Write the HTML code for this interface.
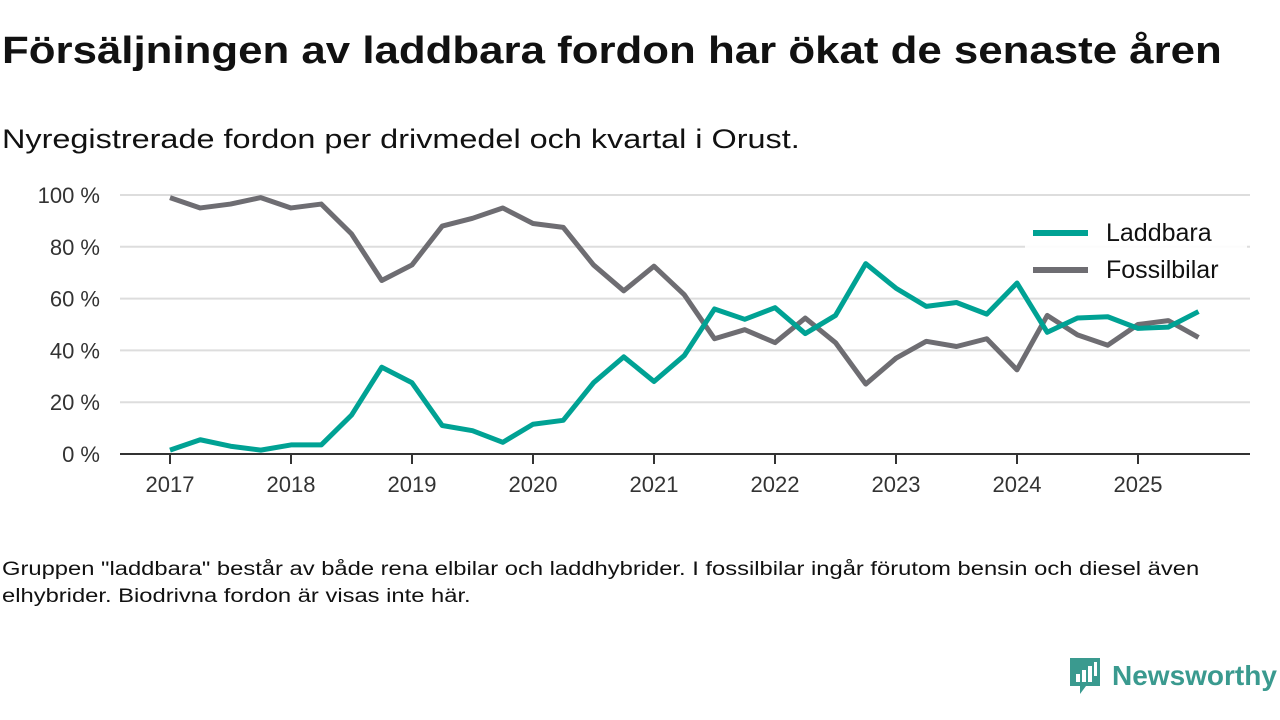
<!DOCTYPE html>
<html><head><meta charset="utf-8">
<style>
body{margin:0;width:1280px;height:720px;background:#fff;font-family:"Liberation Sans","DejaVu Sans",sans-serif;color:#111;overflow:hidden;position:relative}
#title{position:absolute;left:2px;top:30px;font-size:38px;font-weight:bold;margin:0;transform:scaleX(1.153);transform-origin:left top;white-space:nowrap}
#sub{position:absolute;left:2px;top:124px;font-size:27px;transform:scaleX(1.2);transform-origin:left top;white-space:nowrap}
#note{position:absolute;left:2px;top:556px;font-size:19px;line-height:27px;width:992px;transform:scaleX(1.25);transform-origin:left top}
#logo{position:absolute;left:1068px;top:656px;display:flex;align-items:center}
#logo span{font-size:28px;font-weight:bold;color:#3a9a8f;margin-left:10px}
</style></head><body>
<h1 id="title">Försäljningen av laddbara fordon har ökat de senaste åren</h1>
<div id="sub">Nyregistrerade fordon per drivmedel och kvartal i Orust.</div>
<svg id="chart" width="1280" height="720" style="position:absolute;left:0;top:0"></svg>
<div id="note">Gruppen "laddbara" består av både rena elbilar och laddhybrider. I fossilbilar ingår förutom bensin och diesel även elhybrider. Biodrivna fordon är visas inte här.</div>
<div id="logo">
<svg width="34" height="40" viewBox="0 0 34 40"><path d="M2 2h30v28H18l-6 8v-8H2z" fill="#3a9a8f"/><rect x="8" y="18" width="4" height="8" fill="#fff"/><rect x="14" y="14" width="4" height="12" fill="#fff"/><rect x="20" y="10" width="4" height="16" fill="#fff"/><rect x="26" y="6" width="3" height="14" fill="#fff"/></svg>
<span>Newsworthy</span></div>
<script>
const years=["2017","2018","2019","2020","2021","2022","2023","2024","2025"];
const yTicks=[0,20,40,60,80,100];
const laddbara=[1.5,5.5,3,1.5,3.5,3.5,15,33.5,27.5,11,9,4.5,11.5,13,27.5,37.5,28,38,56,52,56.5,46.5,53.5,73.5,64,57,58.5,54,66,47,52.5,53,48.5,49,55];
const fossil=[99,95,96.5,99,95,96.5,85,67,73,88,91,95,89,87.5,73,63,72.5,61.5,44.5,48,43,52.5,43,27,37,43.5,41.5,44.5,32.5,53.5,46,42,50,51.5,45];
const NS="http://www.w3.org/2000/svg";
const svg=document.getElementById('chart');
const X=i=>170+i*(1138-170)/32;
const Y=v=>454-v*(454-195)/100;
function mk(t,a){const e=document.createElementNS(NS,t);for(const k in a)e.setAttribute(k,a[k]);svg.appendChild(e);return e;}
yTicks.forEach(v=>{
  if(v>0){const g=mk('line',{x1:120,x2:1250,y1:Y(v),y2:Y(v),stroke:'#ddd','stroke-width':2});
  
  }
  const t=mk('text',{x:100,y:Y(v)+8,'text-anchor':'end','font-size':22,fill:'#333','font-family':'Liberation Sans, sans-serif'});
  t.textContent=v+' %';
  
  
});
const ax=mk('line',{x1:120,x2:1250,y1:454,y2:454,stroke:'#333','stroke-width':2});


years.forEach((yr,i)=>{
  const x=X(i*4);
  const tk=mk('line',{x1:x,x2:x,y1:454,y2:464,stroke:'#333','stroke-width':2});
  
  
  const t=mk('text',{x:x,y:492,'text-anchor':'middle','font-size':22,fill:'#333','font-family':'Liberation Sans, sans-serif'});
  t.textContent=yr;
  
  
});
function line(d,c,name){
  const p=mk('polyline',{points:d.map((v,i)=>X(i)+','+Y(v)).join(' '),fill:'none',stroke:c,'stroke-width':5,'stroke-linejoin':'round'});
  
  
}
line(fossil,'#6e6d72','fossilbilar-line');
const bg=mk('rect',{x:1025,y:212,width:222,height:78,fill:'#fff','fill-opacity':0.9});


line(laddbara,'#00a294','laddbara-line');
[["Laddbara",'#00a294',233],["Fossilbilar",'#6e6d72',270]].forEach(([n,c,y])=>{
  const l=mk('line',{x1:1033,x2:1088,y1:y,y2:y,stroke:c,'stroke-width':6});
  
  
  const t=mk('text',{x:1106,y:y+8,'font-size':25,fill:'#111','font-family':'Liberation Sans, sans-serif'});
  t.textContent=n;
  
  
});
</script>
</body></html>
